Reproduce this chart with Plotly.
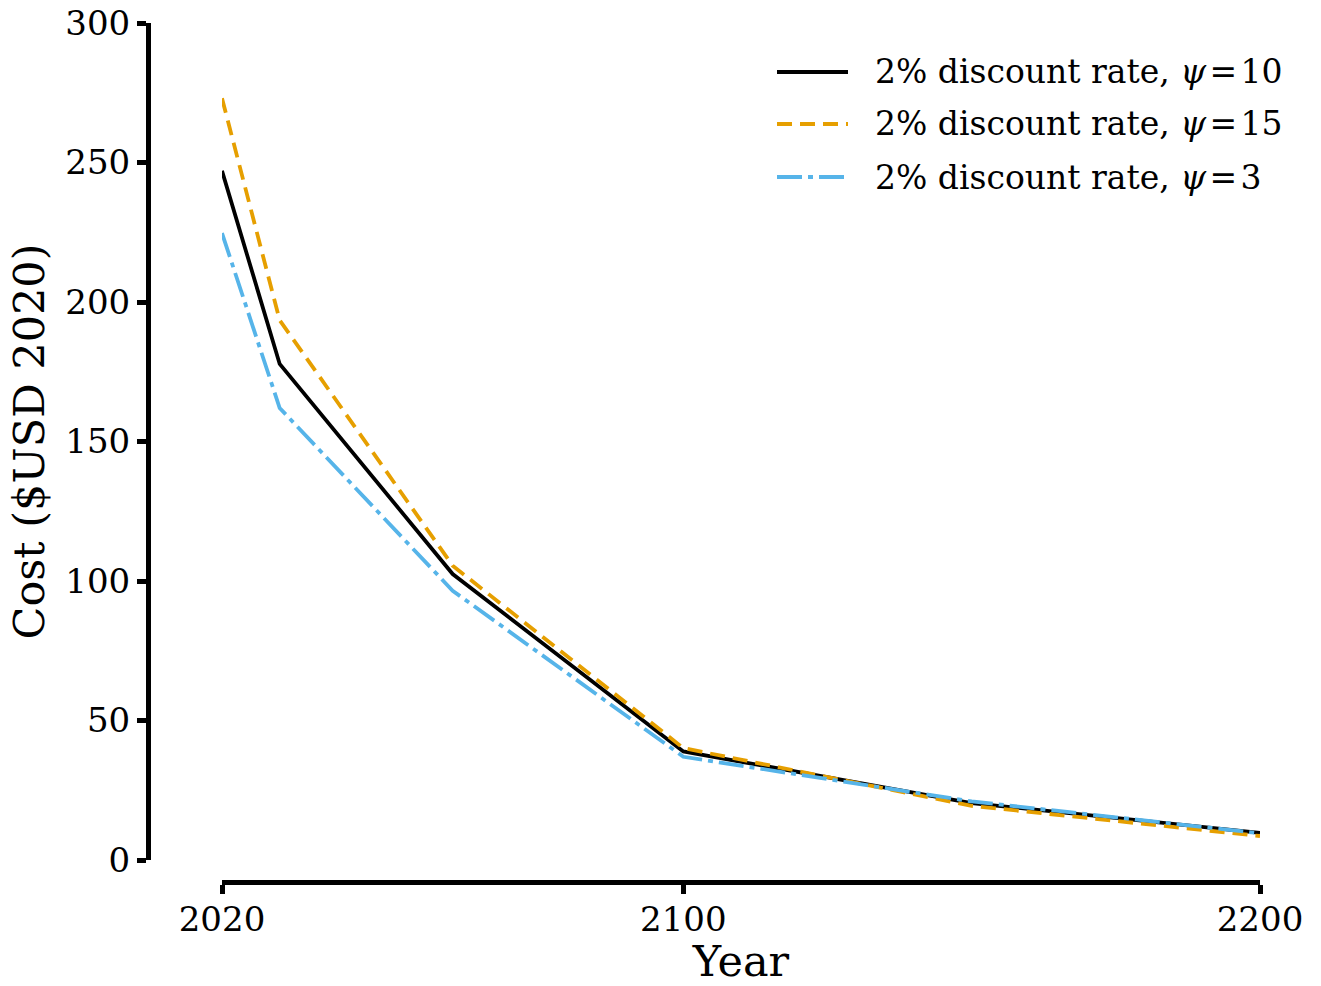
import plotly.graph_objects as go

# Cost trajectories under a 2% discount rate for three values of psi
years = [2020, 2030, 2060, 2100, 2150, 2200]
cost_psi10 = [247.0, 177.8, 102.5, 38.9, 20.4, 9.7]
cost_psi15 = [273.0, 193.5, 105.5, 40.1, 19.4, 8.6]
cost_psi3 = [224.7, 162.0, 96.5, 37.0, 21.0, 9.6]

HS = "\u200a"
series_names = [f"2% discount rate, <i>ψ</i>{HS}={HS}10",
                f"2% discount rate, <i>ψ</i>{HS}={HS}15",
                f"2% discount rate, <i>ψ</i>{HS}={HS}3"]
series_colors = ["#000000", "#E69F00", "#56B4E9"]
series_dash = ["solid", "15px,8px", "25px,6px,5px,6px"]
series_values = [cost_psi10, cost_psi15, cost_psi3]

x_ticks = [2020, 2100, 2200]
y_ticks = [0, 50, 100, 150, 200, 250, 300]

FONT = "DejaVu Serif"
W, H = 1321, 986
ML, MR, MT, MB = 148, 61, 23, 104
pw = W - ML - MR
ph = H - MT - MB
LW = 3.8

fig = go.Figure()
for name, vals, col, dash in zip(series_names, series_values, series_colors, series_dash):
    fig.add_trace(go.Scatter(
        x=years, y=vals, mode="lines", name=name,
        line=dict(color=col, width=LW, dash=dash),
        showlegend=False,
    ))

# Hand-built legend in the upper right
legend_y = [72, 124, 177]
for name, col, dash, ly in zip(series_names, series_colors, series_dash, legend_y):
    yp = (H - MB - ly) / ph
    x0 = (777 - ML) / pw
    x1 = (848 - ML) / pw
    fig.add_shape(type="line", xref="paper", yref="paper",
                  x0=x0, x1=x1, y0=yp, y1=yp,
                  line=dict(color=col, width=LW, dash=dash))
    fig.add_annotation(xref="paper", yref="paper", x=(873 - ML) / pw, y=yp,
                       xanchor="left", yanchor="middle", showarrow=False,
                       text=name, font=dict(family=FONT, size=33, color="black"))

x_dom0 = (222 - ML) / pw
y_dom0 = (H - MB - 860) / ph

fig.update_layout(
    width=W, height=H,
    margin=dict(l=ML, r=MR, t=MT, b=MB, autoexpand=False),
    paper_bgcolor="white", plot_bgcolor="white",
    font=dict(family=FONT, size=34, color="black"),
    xaxis=dict(
        domain=[x_dom0, 1], range=[2020, 2200],
        anchor="free", position=0, automargin=False,
        tickvals=x_ticks, ticktext=[str(v) for v in x_ticks],
        showline=True, linecolor="black", linewidth=5,
        ticks="outside", ticklen=9, tickwidth=5, tickcolor="black",
        ticklabelstandoff=-4,
        showgrid=False, zeroline=False,
        tickfont=dict(family=FONT, size=34),
        title=dict(text="Year", font=dict(family=FONT, size=43), standoff=8),
    ),
    yaxis=dict(
        domain=[y_dom0, 1], range=[0, 300],
        anchor="free", position=0, automargin=False,
        tickvals=y_ticks,
        showline=True, linecolor="black", linewidth=5,
        ticks="outside", ticklen=9, tickwidth=5, tickcolor="black",
        showgrid=False, zeroline=False,
        tickfont=dict(family=FONT, size=34),
        title=dict(text="Cost ($USD 2020)", font=dict(family=FONT, size=43), standoff=6),
    ),
)

fig.write_html("out.html")
